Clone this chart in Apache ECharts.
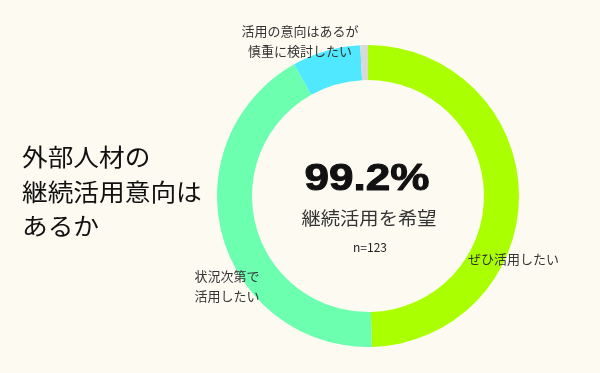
<!DOCTYPE html>
<html><head><meta charset="utf-8">
<script src="https://cdn.jsdelivr.net/npm/echarts@6/dist/echarts.min.js"></script>
<style>html,body{margin:0;padding:0;background:#fdfaf2;}#c{width:600px;height:373px;}</style>
</head><body><div id="c"></div>
<script>
const categories = ['ぜひ活用したい', '状況次第で\n活用したい', '活用の意向はあるが\n慎重に検討したい', 'その他'];
const counts = [61, 52, 9, 1];
const colors = ['#aaff00', '#6cffb0', '#50e8ff', '#d9d9d9'];
const titleLines = ['外部人材の', '継続活用意向は', 'あるか'];
const centerValue = '99.2%';
const centerCaption = '継続活用を希望';
const sampleLabel = 'n=123';

const chart = echarts.init(document.getElementById('c'), null, {renderer: 'canvas'});
const jp = '"Noto Sans CJK JP", sans-serif';
const labelPos = [
  {x: 468, y: 259, align: 'left'},
  {x: 227, y: 286, align: 'center'},
  {x: 300, y: 41, align: 'center'},
  null
];
const graphics = [];
titleLines.forEach((t, i) => {
  graphics.push({type: 'text', z: 100, x: 22, y: 157 + i * 34.5, scaleX: 1.07,
    style: {text: t, font: '24px ' + jp, fill: '#111', textVerticalAlign: 'middle', textAlign: 'left'}});
});
graphics.push({type: 'text', z: 100, x: 367, y: 180, scaleX: 1.19,
  style: {text: centerValue, font: 'bold 37px "Liberation Sans", Arial, sans-serif', fill: '#111', stroke: '#111', lineWidth: 1, textAlign: 'center', textVerticalAlign: 'middle'}});
graphics.push({type: 'text', z: 100, x: 369, y: 218, scaleX: 1.07,
  style: {text: centerCaption, font: '18px ' + jp, fill: '#333', textAlign: 'center', textVerticalAlign: 'middle'}});
graphics.push({type: 'text', z: 100, x: 370, y: 247,
  style: {text: sampleLabel, font: '12px ' + jp, fill: '#222', textAlign: 'center', textVerticalAlign: 'middle'}});
categories.forEach((c, i) => {
  const p = labelPos[i];
  if (!p) return;
  graphics.push({type: 'text', z: 100, x: p.x, y: p.y,
    style: {text: c, font: '13px ' + jp, fill: '#333', textAlign: p.align, textVerticalAlign: 'middle', lineHeight: 20}});
});

chart.setOption({
  backgroundColor: '#fdfaf2',
  animation: false,
  series: [{
    type: 'pie',
    center: [368, 196],
    radius: [116, 151],
    startAngle: 90,
    clockwise: true,
    silent: true,
    z: 1,
    label: {show: false},
    labelLine: {show: false},
    itemStyle: {borderWidth: 0},
    data: categories.map((c, i) => ({name: c, value: counts[i], itemStyle: {color: colors[i]}}))
  }],
  graphic: graphics
});
</script></body></html>
